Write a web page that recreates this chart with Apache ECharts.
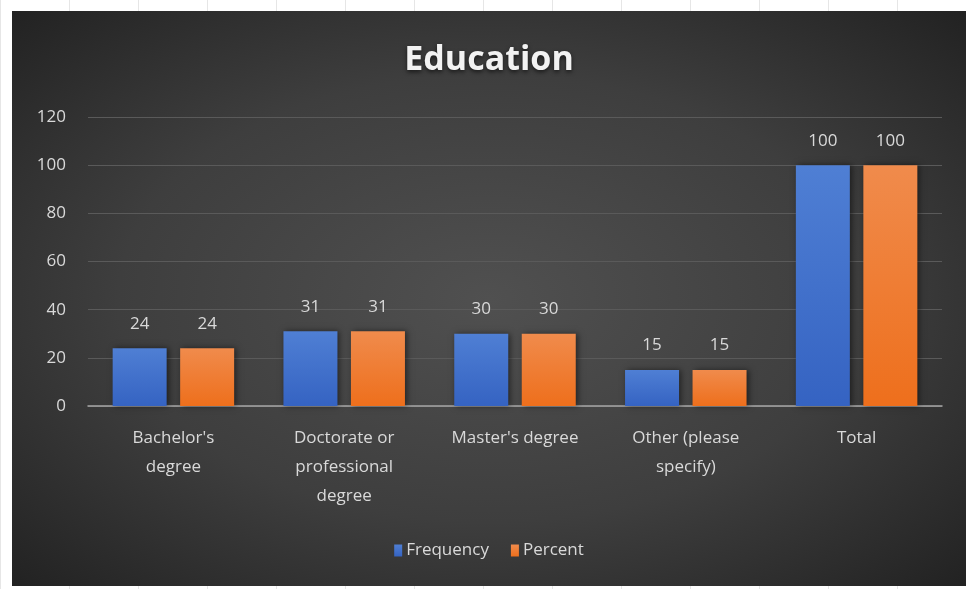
<!DOCTYPE html>
<html>
<head>
<meta charset="utf-8">
<script src="https://cdn.jsdelivr.net/npm/echarts@6/dist/echarts.min.js"></script>
<style>
  html, body { margin: 0; padding: 0; background: #ffffff; }
  #wrap { position: relative; width: 966px; height: 589px; overflow: hidden;
    background-image: linear-gradient(to right, #e6e6e6 1px, transparent 1px);
    background-size: 69px 100%; }
  #chart { position: absolute; left: 12px; top: 11px; width: 954px; height: 575px;
    background: radial-gradient(ellipse at 50% 50%, #505050 0%, #3e3e3e 55%, #222222 100%); }
</style>
</head>
<body>
<div id="wrap"><div id="chart"></div></div>
<script>
var categories = ["Bachelor's\ndegree", "Doctorate or\nprofessional\ndegree", "Master's degree", "Other (please\nspecify)", "Total"];
var frequency = [24, 31, 30, 15, 100];
var percent = [24, 31, 30, 15, 100];

var myChart = echarts.init(document.getElementById('chart'));
var txt = '#d9d9d9';
var font = 'Open Sans';
option = {
    backgroundColor: 'transparent',
    title: {
        text: 'Education',
        left: 'center',
        top: 27,
        textStyle: { color: '#f2f2f2', fontSize: 34, fontWeight: 'bold', fontFamily: font,
            letterSpacing: 2.5,
            textShadowColor: 'rgba(0,0,0,0.6)', textShadowBlur: 4, textShadowOffsetY: 2 }
    },
    legend: {
        data: ['Frequency', 'Percent'],
        bottom: 22,
        left: 'center',
        itemWidth: 8,
        itemHeight: 12,
        itemGap: 22,
        icon: 'rect',
        textStyle: { color: txt, fontSize: 17, fontFamily: font, padding: [0, 0, 0, -1] }
    },
    grid: { left: 76, right: 24, top: 106, bottom: 180 },
    xAxis: {
        type: 'category',
        data: categories,
        axisTick: { show: false },
        axisLine: { lineStyle: { color: '#a6a6a6', width: 1.5 } },
        axisLabel: { color: txt, fontSize: 17, fontFamily: font, lineHeight: 29, margin: 18, interval: 0 }
    },
    yAxis: {
        type: 'value',
        min: 0,
        max: 120,
        interval: 20,
        axisLine: { show: false },
        axisTick: { show: false },
        splitLine: { lineStyle: { color: '#5a5a5a', width: 1 } },
        axisLabel: { color: txt, fontSize: 17, fontFamily: font, margin: 22 }
    },
    series: [
        {
            name: 'Frequency',
            type: 'bar',
            data: frequency,
            barWidth: 54,
            barGap: '25%',
            itemStyle: {
                color: new echarts.graphic.LinearGradient(0, 0, 0, 1, [
                    { offset: 0, color: '#4f7fd4' }, { offset: 1, color: '#3563c2' }]),
                shadowColor: 'rgba(0,0,0,0.5)', shadowBlur: 6, shadowOffsetX: 2
            },
            label: { show: true, position: 'top', distance: 16, color: txt, fontSize: 17, fontFamily: font }
        },
        {
            name: 'Percent',
            type: 'bar',
            data: percent,
            barWidth: 54,
            itemStyle: {
                color: new echarts.graphic.LinearGradient(0, 0, 0, 1, [
                    { offset: 0, color: '#f08b4c' }, { offset: 1, color: '#ee6f1c' }]),
                shadowColor: 'rgba(0,0,0,0.5)', shadowBlur: 6, shadowOffsetX: 2
            },
            label: { show: true, position: 'top', distance: 16, color: txt, fontSize: 17, fontFamily: font }
        }
    ]
};
myChart.setOption(option);
</script>
</body>
</html>
